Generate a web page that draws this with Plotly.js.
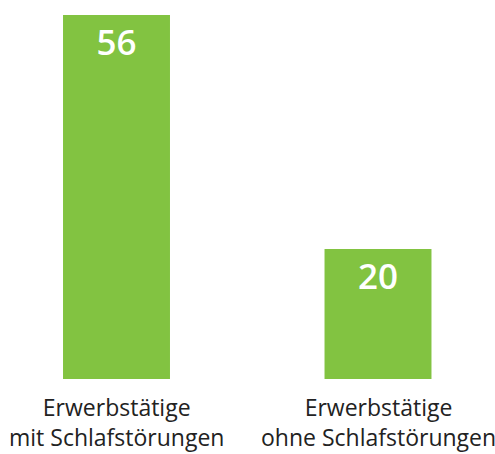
<!DOCTYPE html>
<html>
<head>
<meta charset="utf-8">
<script src="https://cdn.plot.ly/plotly-3.0.1.min.js"></script>
<style>html,body{margin:0;padding:0;background:#fff;}#chart{width:495px;height:454px;}</style>
</head>
<body>
<div id="chart"></div>
<script>
const categoryLine1 = ["Erwerbstätige", "Erwerbstätige"];
const categoryLine2 = ["mit Schlafstörungen", "ohne Schlafstörungen"];
const values = [56, 20];
const barColor = "#82c341";
const xPos = [0, 1];

const trace = {
  type: "bar",
  x: xPos,
  y: values,
  marker: {color: barColor},
  text: values.map(String),
  textposition: "inside",
  insidetextanchor: "end",
  textangle: 0,
  textfont: {family: "Open Sans", size: 35, color: "#ffffff", weight: 600},
  hoverinfo: "none",
  cliponaxis: false
};

const labelFont = {family: "Open Sans", size: 23, color: "#222222"};
const plotH = 454 - 15 - 75;
const annotations = xPos.map((x, i) => ({
  x: x, xref: "x", y: -75 / plotH, yref: "paper",
  text: categoryLine1[i] + "<br>" + categoryLine2[i],
  showarrow: false, font: labelFont, xanchor: "center", yanchor: "bottom",
  align: "center", borderpad: 0
}));

const layout = {
  width: 495,
  height: 454,
  margin: {l: 0, r: 0, t: 15, b: 75},
  paper_bgcolor: "#ffffff",
  plot_bgcolor: "#ffffff",
  bargap: 0.591,
  showlegend: false,
  annotations: annotations,
  xaxis: {
    range: [-0.4455, 1.4474],
    showticklabels: false,
    showgrid: false,
    zeroline: false,
    showline: false,
    ticks: "",
    fixedrange: true
  },
  yaxis: {
    range: [0, 56],
    visible: false,
    showgrid: false,
    zeroline: false,
    fixedrange: true
  }
};

Plotly.newPlot("chart", [trace], layout, {displayModeBar: false, staticPlot: true});
</script>
</body>
</html>
